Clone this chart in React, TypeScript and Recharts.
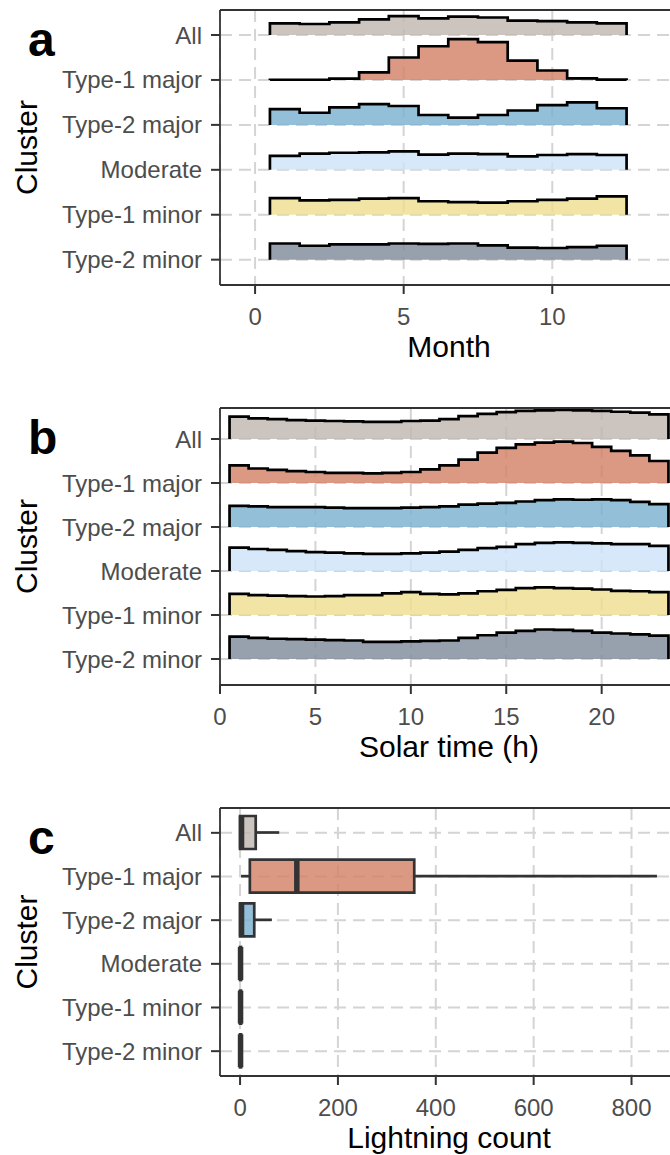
import React from "react";
import { ComposedChart, Area, Bar, Cell, XAxis, YAxis, CartesianGrid } from "recharts";

const clusters = ["All", "Type-1 major", "Type-2 major", "Moderate", "Type-1 minor", "Type-2 minor"];
const clusterColors = ["#bfb7af", "#d27e64", "#78afcf", "#cde2fa", "#efdd8f", "#7d8a99"];

// panel a: histogram heights per month (in row units)
const months = [1, 2, 3, 4, 5, 6, 7, 8, 9, 10, 11, 12];
const monthAll = [0.26, 0.245, 0.28, 0.35, 0.42, 0.37, 0.41, 0.39, 0.32, 0.31, 0.28, 0.26];
const monthT1Major = [0.005, 0.005, 0.03, 0.17, 0.5, 0.75, 0.91, 0.84, 0.43, 0.21, 0.035, 0.008];
const monthT2Major = [0.35, 0.27, 0.39, 0.46, 0.42, 0.22, 0.16, 0.22, 0.32, 0.44, 0.5, 0.37];
const monthModerate = [0.31, 0.36, 0.38, 0.39, 0.41, 0.34, 0.36, 0.35, 0.3, 0.33, 0.35, 0.33];
const monthT1Minor = [0.37, 0.32, 0.33, 0.36, 0.37, 0.3, 0.28, 0.27, 0.3, 0.33, 0.36, 0.41];
const monthT2Minor = [0.36, 0.31, 0.34, 0.34, 0.36, 0.35, 0.36, 0.32, 0.27, 0.26, 0.28, 0.31];
const monthTicks = [0, 5, 10];

// panel b: histogram heights per solar hour
const hours = [1, 2, 3, 4, 5, 6, 7, 8, 9, 10, 11, 12, 13, 14, 15, 16, 17, 18, 19, 20, 21, 22, 23];
const hourAll = [0.51, 0.47, 0.45, 0.43, 0.42, 0.41, 0.4, 0.39, 0.39, 0.41, 0.42, 0.45, 0.52, 0.57, 0.61, 0.64, 0.65, 0.66, 0.65, 0.64, 0.62, 0.6, 0.56];
const hourT1Major = [0.4, 0.33, 0.3, 0.27, 0.25, 0.23, 0.23, 0.22, 0.23, 0.25, 0.31, 0.4, 0.53, 0.69, 0.8, 0.88, 0.92, 0.94, 0.91, 0.82, 0.73, 0.63, 0.5];
const hourT2Major = [0.48, 0.47, 0.45, 0.45, 0.45, 0.44, 0.43, 0.43, 0.43, 0.44, 0.45, 0.47, 0.51, 0.53, 0.55, 0.58, 0.61, 0.63, 0.62, 0.63, 0.61, 0.57, 0.52];
const hourModerate = [0.53, 0.5, 0.48, 0.45, 0.43, 0.42, 0.4, 0.39, 0.39, 0.4, 0.42, 0.44, 0.48, 0.52, 0.55, 0.61, 0.64, 0.65, 0.64, 0.63, 0.61, 0.61, 0.57];
const hourT1Minor = [0.48, 0.45, 0.44, 0.43, 0.42, 0.43, 0.45, 0.45, 0.49, 0.52, 0.48, 0.47, 0.49, 0.54, 0.57, 0.61, 0.63, 0.61, 0.6, 0.58, 0.55, 0.54, 0.52];
const hourT2Minor = [0.51, 0.48, 0.46, 0.45, 0.44, 0.43, 0.42, 0.39, 0.39, 0.4, 0.41, 0.42, 0.48, 0.54, 0.6, 0.64, 0.67, 0.66, 0.64, 0.6, 0.58, 0.56, 0.53];
const hourTicks = [0, 5, 10, 15, 20];

// panel c: lightning count box plots
const boxMin = [0, 2, 0, 0, 0, 0];
const boxQ1 = [0, 20, 0, 0, 0, 0];
const boxMedian = [3, 116, 3, 1, 1, 1];
const boxQ3 = [32, 356, 29, 2, 2, 2];
const boxMax = [80, 852, 65, 5, 4, 4];
const countTicks = [0, 200, 400, 600, 800];

const rowTicks = [6, 5, 4, 3, 2, 1];
const gridColor = "#d4d4d4";
const dark = "#333333";
const tickStyle = { fontSize: 24, fill: "#4d4d4d" };
const titleStyle = { fontSize: 30, fill: "#000" };
const frame = { stroke: dark, strokeWidth: 1.8 };

function ridge(centers: number[], heights: number[], base: number) {
  const pts = [{ x: centers[0] - 0.5, y: base }];
  centers.forEach((c, i) => pts.push({ x: c - 0.5, y: base + heights[i] }));
  const last = centers.length - 1;
  pts.push({ x: centers[last] + 0.5, y: base + heights[last] });
  pts.push({ x: centers[last] + 0.5, y: base });
  return pts;
}

function yLabel() {
  return {
    value: "Cluster",
    angle: -90,
    position: "insideLeft" as const,
    offset: 26,
    textAnchor: "middle",
    style: { ...titleStyle, textAnchor: "middle" },
  };
}

function RidgePanel(props: {
  top: number;
  centers: number[];
  series: number[][];
  xDomain: number[];
  xTicks: number[];
  yDomain: number[];
  plotHeight: number;
  xLabel: string;
}) {
  const { top, centers, series, xDomain, xTicks, yDomain, plotHeight, xLabel } = props;
  return (
    <div style={{ position: "absolute", left: 0, top }}>
      <ComposedChart width={680} height={10 + plotHeight + 80} margin={{ top: 9, right: 2, bottom: 0, left: 0 }}>
        <CartesianGrid stroke={gridColor} strokeWidth={2} strokeDasharray="12 7" />
        <XAxis
          type="number"
          dataKey="x"
          domain={xDomain}
          allowDataOverflow
          ticks={xTicks}
          interval={0}
          height={80}
          tickSize={9}
          tickMargin={14}
          tick={tickStyle}
          tickLine={{ stroke: dark, strokeWidth: 2 }}
          axisLine={frame}
          label={{ value: xLabel, position: "insideBottom", offset: 8, style: titleStyle }}
        />
        <XAxis
          xAxisId="top"
          orientation="top"
          type="number"
          domain={xDomain}
          allowDataOverflow
          height={1}
          tick={false}
          tickLine={false}
          axisLine={frame}
        />
        <YAxis
          type="number"
          domain={yDomain}
          allowDataOverflow
          ticks={rowTicks}
          interval={0}
          width={220}
          tickSize={9}
          tickMargin={9}
          tick={tickStyle}
          tickFormatter={(v: number) => clusters[6 - v]}
          tickLine={{ stroke: dark, strokeWidth: 2 }}
          axisLine={frame}
          label={yLabel()}
        />
        {series.map((h, i) => (
          <Area
            key={clusters[i]}
            data={ridge(centers, h, 6 - i)}
            dataKey="y"
            type="stepAfter"
            baseValue={6 - i}
            fill={clusterColors[i]}
            fillOpacity={0.8}
            stroke="#000"
            strokeWidth={2.7}
            dot={false}
            activeDot={false}
            isAnimationActive={false}
          />
        ))}
      </ComposedChart>
    </div>
  );
}

function Whisker(p: any) {
  const cy = p.y + p.height / 2;
  return <line x1={p.x} x2={p.x + p.width} y1={cy} y2={cy} stroke={dark} strokeWidth={2.7} />;
}

function MedianLine(p: any) {
  return <line x1={p.x} x2={p.x} y1={p.y} y2={p.y + p.height} stroke={dark} strokeWidth={5.5} />;
}

function BoxPanel({ top }: { top: number }) {
  const rows = clusters.map((name, i) => ({
    name,
    lower: [boxMin[i], boxQ1[i]],
    upper: [boxQ3[i], boxMax[i]],
    box: [boxQ1[i], boxQ3[i]],
    median: [boxMedian[i], boxMedian[i]],
  }));
  return (
    <div style={{ position: "absolute", left: 0, top }}>
      <ComposedChart
        layout="vertical"
        width={680}
        height={10 + 268 + 80}
        data={rows}
        margin={{ top: 9, right: 2, bottom: 0, left: 0 }}
        barSize={33}
        barGap={-33}
      >
        <CartesianGrid stroke={gridColor} strokeWidth={2} strokeDasharray="12 7" />
        <XAxis
          type="number"
          domain={[-41, 895]}
          allowDataOverflow
          ticks={countTicks}
          interval={0}
          height={80}
          tickSize={9}
          tickMargin={14}
          tick={tickStyle}
          tickLine={{ stroke: dark, strokeWidth: 2 }}
          axisLine={frame}
          label={{ value: "Lightning count", position: "insideBottom", offset: 8, style: titleStyle }}
        />
        <XAxis
          xAxisId="top"
          orientation="top"
          type="number"
          domain={[-41, 895]}
          allowDataOverflow
          height={1}
          tick={false}
          tickLine={false}
          axisLine={frame}
        />
        <YAxis
          type="category"
          dataKey="name"
          width={220}
          padding={{ top: 3, bottom: 3 }}
          interval={0}
          tickSize={9}
          tickMargin={9}
          tick={tickStyle}
          tickLine={{ stroke: dark, strokeWidth: 2 }}
          axisLine={frame}
          label={yLabel()}
        />
        <Bar dataKey="lower" shape={Whisker} isAnimationActive={false} />
        <Bar dataKey="upper" shape={Whisker} isAnimationActive={false} />
        <Bar dataKey="box" stroke={dark} strokeWidth={2.7} fillOpacity={0.8} isAnimationActive={false}>
          {rows.map((r, i) => (
            <Cell key={r.name} fill={clusterColors[i]} />
          ))}
        </Bar>
        <Bar dataKey="median" shape={MedianLine} isAnimationActive={false} />
      </ComposedChart>
    </div>
  );
}

const letterStyle: React.CSSProperties = {
  position: "absolute",
  left: 28,
  fontSize: 48,
  fontWeight: "bold",
  lineHeight: "48px",
  color: "#000",
};

export default function App() {
  return (
    <div
      style={{
        position: "absolute",
        left: 0,
        top: 0,
        width: 670,
        height: 1155,
        overflow: "hidden",
        background: "#fff",
        fontFamily: "'Liberation Sans', Arial, sans-serif",
      }}
    >
      <RidgePanel
        top={0}
        centers={months}
        series={[monthAll, monthT1Major, monthT2Major, monthModerate, monthT1Minor, monthT2Minor]}
        xDomain={[-1.18, 14.23]}
        xTicks={monthTicks}
        yDomain={[0.436, 6.557]}
        plotHeight={275}
        xLabel="Month"
      />
      <RidgePanel
        top={398}
        centers={hours}
        series={[hourAll, hourT1Major, hourT2Major, hourModerate, hourT1Minor, hourT2Minor]}
        xDomain={[0, 24]}
        xTicks={hourTicks}
        yDomain={[0.409, 6.705]}
        plotHeight={277}
        xLabel="Solar time (h)"
      />
      <BoxPanel top={798} />
      <div style={{ ...letterStyle, top: 16 }}>a</div>
      <div style={{ ...letterStyle, top: 414 }}>b</div>
      <div style={{ ...letterStyle, top: 814 }}>c</div>
    </div>
  );
}
